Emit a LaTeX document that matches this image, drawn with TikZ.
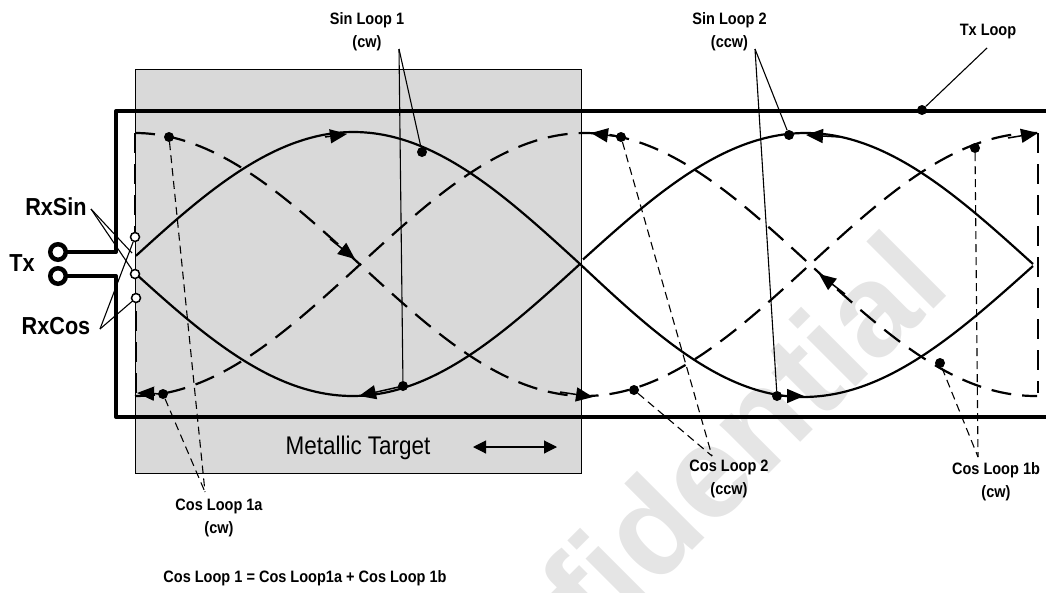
\documentclass[tikz,border=0pt]{standalone}
\usepackage{fontspec}
\setmainfont{Liberation Sans}
\usetikzlibrary{arrows.meta}
\tikzset{
  loopsolid/.style={line width=2.2pt},
  loopdash/.style={line width=2.2pt,dash pattern=on 20pt off 11pt},
  leader/.style={line width=1.1pt},
  dleader/.style={line width=1.1pt,dash pattern=on 8pt off 5pt},
  frame/.style={line width=4pt,line cap=round,line join=round},
  tip/.style={-{Triangle[length=17pt,width=14pt]},line width=1.5pt},
  dot/.style={circle,fill=black,inner sep=0pt,minimum size=10pt},
  port/.style={circle,draw=black,fill=white,line width=1.5pt,inner sep=0pt,minimum size=9pt},
  txport/.style={circle,draw=black,fill=white,line width=4.5pt,inner sep=0pt,minimum size=15.5pt},
  lab/.style={font=\bfseries\fontsize{16.5pt}{23pt}\selectfont,align=center,xscale=0.88,inner sep=0pt},
  biglab/.style={font=\bfseries\fontsize{24.6pt}{28pt}\selectfont,xscale=0.88,inner sep=0pt},
}
\begin{document}
\begin{tikzpicture}[x=1pt,y=-1pt]
\useasboundingbox (0,0) rectangle (1046,592);
\clip (0,0) rectangle (1046,592);
% watermark
\node[text=black!10,font=\bfseries\fontsize{131pt}{131pt}\selectfont,rotate=45,anchor=base east,inner sep=0pt] (wm) at (953,290) {fidential};
% target
\node[draw=black,fill=black!15,line width=0.8pt,minimum width=446pt,minimum height=404pt,inner sep=0pt,anchor=north west] (target) at (135,69) {};
% loops
\draw[loopsolid] plot[domain=136:580,samples=100] (\x,{264-132*sin((\x-127)/453*180)})
  -- plot[domain=580:803,samples=60] (\x,{264+133*sin((\x-580)/446*180)})
  -- plot[domain=803:1033,samples=60] (\x,{266+131*cos((\x-803)/230*90)});
\draw[loopsolid] plot[domain=137:580,samples=100] (\x,{264+132*sin((\x-125)/455*180)});
\draw[loopsolid] plot[domain=583:1033,samples=100] (\x,{264-131*sin((\x-578)/455*180)});
\draw[loopdash] plot[domain=135:1037,samples=180] (\x,{264.5-131.5*cos((\x-135)/450*180)});
\draw[loopdash] plot[domain=135:1037,samples=180] (\x,{264.5+131.5*cos((\x-135)/450*180)});
\draw[loopdash] (135,133) -- (135,232);
\draw[loopdash] (136,393) -- (136,302);
\draw[loopdash] (1038,133) -- (1038,393);
% frame
\draw[frame] (1050,111) -| (116,252) -- (64,252);
\draw[frame] (1050,417) -| (116,276) -- (64,276);
% arrows on loops
\coordinate (a1s) at (325,137); \coordinate (a1e) at (347,134);
\coordinate (a2s) at (403,386); \coordinate (a2e) at (359,396);
\coordinate (a3s) at (560,392); \coordinate (a3e) at (593,397);
\coordinate (a4s) at (621,137); \coordinate (a4e) at (591,133);
\coordinate (a5s) at (840,137); \coordinate (a5e) at (806,135);
\coordinate (a6s) at (1008,138); \coordinate (a6e) at (1038,133);
\coordinate (a7s) at (777,396); \coordinate (a7e) at (804,396);
\coordinate (a8s) at (845,294); \coordinate (a8e) at (819,274);
\coordinate (a9s) at (163,394); \coordinate (a9e) at (137,393);
\coordinate (a10s) at (330,239); \coordinate (a10e) at (355,259);
\foreach \i in {1,...,10} \draw[tip] (a\i s) -- (a\i e);
% dots
\node[dot] (d1) at (169,137) {};
\node[dot] (d2) at (422,152) {};
\node[dot] (d3) at (403,386) {};
\node[dot] (d4) at (163,394) {};
\node[dot] (d5) at (621,137) {};
\node[dot] (d6) at (634,390) {};
\node[dot] (d7) at (789,135) {};
\node[dot] (d8) at (777,396) {};
\node[dot] (d9) at (975,148) {};
\node[dot] (d10) at (940,363) {};
\node[dot] (d11) at (922,110) {};
% labels
\node[lab] (sin1) at (367,31.5) {Sin Loop 1\\(cw)};
\node[lab] (sin2) at (729.5,31.5) {Sin Loop 2\\(ccw)};
\node[lab] (txl) at (988,32) {Tx Loop};
\node[lab] (cos1a) at (219,517.5) {Cos Loop 1a\\(cw)};
\node[lab] (cos2) at (729,478.5) {Cos Loop 2\\(ccw)};
\node[lab] (cos1b) at (996,482) {Cos Loop 1b\\(cw)};
\node[lab] (eq) at (305,578) {Cos Loop 1 = Cos Loop1a + Cos Loop 1b};
\node[biglab] (rxsin) at (56,207) {RxSin};
\node[biglab] (rxcos) at (56,326) {RxCos};
\node[biglab] (tx) at (22,263) {Tx};
\node[font=\fontsize{25.5pt}{28pt}\selectfont,xscale=0.88,inner sep=0pt] (mt) at (358,448) {Metallic Target};
% leaders
\coordinate (s1) at (399,49); \coordinate (s2) at (755,49);
\coordinate (t1) at (987,48);
\coordinate (c1) at (205,492); \coordinate (c2) at (712,456); \coordinate (c3) at (978,457);
\draw[leader] (s1) -- (d2); \draw[leader] (s1) -- (d3);
\draw[leader] (s2) -- (d7); \draw[leader] (s2) -- (d8);
\draw[leader] (t1) -- (d11);
\draw[dleader] (d1) -- (c1); \draw[dleader] (d4) -- (c1);
\draw[dleader] (d5) -- (c2); \draw[dleader] (d6) -- (c2);
\draw[dleader] (d9) -- (c3); \draw[dleader] (d10) -- (c3);
% double arrow
\coordinate (da) at (473,447); \coordinate (db) at (557,447);
\draw[line width=1.1pt,{Triangle[length=13pt,width=13pt]}-{Triangle[length=13pt,width=13pt]}] (da) -- (db);
% ports
\node[port] (p1) at (135,237) {};
\node[port] (p2) at (135,274) {};
\node[port] (p3) at (136,298) {};
\node[txport] (tx1) at (58,252) {};
\node[txport] (tx2) at (58,276) {};
\coordinate (r1) at (91,209); \coordinate (r2) at (132,253);
\coordinate (r3) at (100,329);
\draw[leader] (r1) -- (r2); \draw[leader] (r1) -- (p2);
\draw[leader] (r3) -- (p3); \draw[leader] (r3) -- (p1);
\end{tikzpicture}
\end{document}
